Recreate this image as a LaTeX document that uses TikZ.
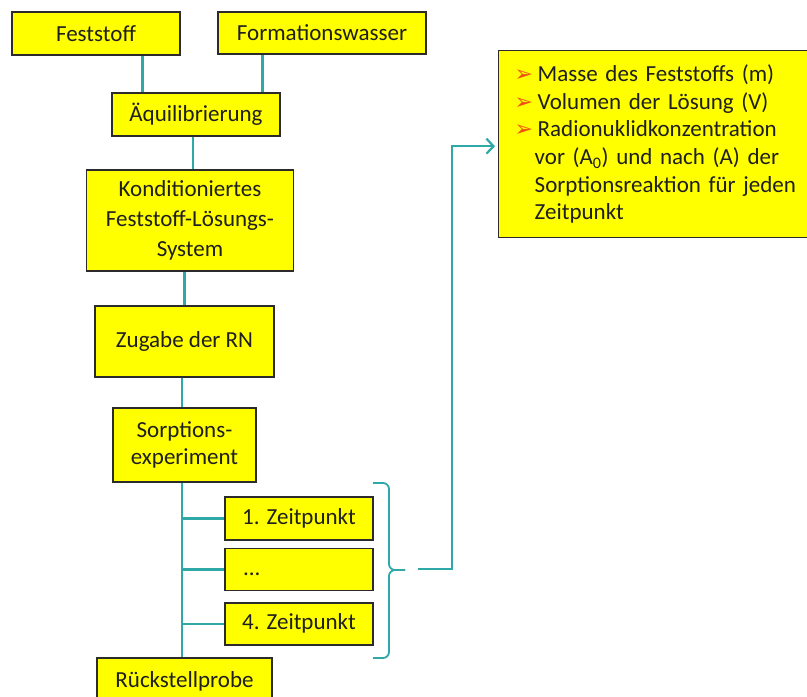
\documentclass[tikz,border=0pt]{standalone}
\usepackage{fontspec}
\setmainfont{Carlito}
\newfontfamily\symfont{DejaVu Sans}
\usetikzlibrary{arrows.meta,positioning}
\definecolor{Gelb}{HTML}{FFFF00}
\definecolor{Teal}{HTML}{2FA8A8}
\definecolor{Rand}{HTML}{2B2B2B}
\definecolor{Pfeil}{HTML}{F04E12}
%orange arrowhead in front of the list items
\newcommand{\Spitze}{\makebox[23pt][l]{\symfont\fontsize{22}{20}\selectfont\color{Pfeil}\raisebox{0pt}{➢}}}

\begin{document}
\begin{tikzpicture}[
        %Environment Cfg.
        x=1pt, y=-1pt,
        font=\fontsize{23}{29}\selectfont,
        >={Straight Barb[length=7pt,width=15pt]},
        %Environment Styles.
        gBox/.style={
            rectangle,
            draw=Rand,
            line width=1.4pt,
            fill=Gelb,
            text=black!88,
            align=center,
            inner sep=0pt
        },
        link/.style={
            draw=Teal,
            line width=2.5pt
        },
        bracket/.style={
            draw=Teal,
            line width=1.8pt,
            rounded corners=6pt
        },
    ]
    \useasboundingbox (0,0) rectangle (807,697);
    \clip (0,0) rectangle (807,697);

    %Main chain
    \node[gBox, minimum width=168pt, minimum height=43pt] (FEST) at (96,33.5) {Feststoff};
    \node[gBox, minimum width=208pt, minimum height=42pt] (FORM) at (322,33) {Formationswasser};
    \node[gBox, minimum width=168pt, minimum height=43pt] (AEQ) at (196,114.5) {Äquilibrierung};
    \node[gBox, minimum width=207pt, minimum height=101pt, font=\fontsize{23}{30}\selectfont] (KOND) at (190,220.5)
        {Konditioniertes\\Feststoff-Lösungs-\\System};
    \node[gBox, minimum width=179pt, minimum height=71pt] (ZUG) at (184.5,341.5) {Zugabe der RN};
    \node[gBox, minimum width=143pt, minimum height=74pt, font=\fontsize{23}{27}\selectfont] (SORP) at (184.5,445)
        {Sorptions-\\experiment};

    %Sampling times
    \node[gBox, minimum width=148pt, minimum height=43pt] (Z1) at (299,518.5) {1. Zeitpunkt};
    \node[gBox, minimum width=148pt, minimum height=42pt, text width=112pt, align=left, inner xsep=18pt,
        below = 7pt of Z1] (ZD) {\raisebox{-6pt}[0pt][0pt]{...}};
    \node[gBox, minimum width=148pt, minimum height=42pt, below = 11pt of ZD] (Z4) {4. Zeitpunkt};
    \node[gBox, minimum width=175pt, minimum height=46pt] (RUECK) at (184.5,681) {Rückstellprobe};

    %Measured quantities
    \node[gBox, anchor=north west, minimum width=332pt, minimum height=187pt, text width=300pt,
        align=left, inner xsep=16pt, font=\fontsize{23}{27.6}\selectfont] (INFO) at (498,50)
        {\Spitze Masse des Feststoffs (m)\\
         \Spitze Volumen der Lösung (V)\\
         \Spitze Radionuklidkonzentration\\
         \hspace*{20pt}vor (A\textsubscript{0}) und nach (A) der\\
         \hspace*{20pt}Sorptionsreaktion für jeden\\
         \hspace*{20pt}Zeitpunkt};

    %Connectors
    \draw[link] ([xshift=31pt]AEQ.north west) -- ([xshift=31pt]AEQ.north west |- FEST.south);
    \draw[link] ([xshift=-18pt]AEQ.north east) -- ([xshift=-18pt]AEQ.north east |- FORM.south);
    \draw[link] ([xshift=-3pt]AEQ.south) -- ([xshift=-3pt]AEQ.south |- KOND.north);
    \draw[link] (ZUG.north) -- (ZUG.north |- KOND.south);
    \coordinate (SPINE) at ([xshift=-2.5pt]SORP.south);
    \draw[link] (SPINE |- ZUG.south) -- (SPINE |- SORP.north);
    \draw[link] (SPINE) -- (SPINE |- RUECK.north);
    \foreach \z in {Z1,ZD,Z4}
        \draw[link] (\z.west) -- (\z.west -| SPINE);

    %Brace and arrow to the list
    \coordinate (BT) at (373,483);
    \coordinate (BB) at (373,658);
    \coordinate (BM) at (389,570);
    \coordinate (BTIP) at (405,570);
    \coordinate (BOUT) at (418,569);
    \draw[bracket] (BT) -| (BM) -- (BTIP);
    \draw[bracket] (BB) -| (BM) -- (BTIP);
    \draw[link, line width=2.2pt, ->] (BOUT) -| ([xshift=-46pt,yshift=-2pt]INFO.west) -- ([xshift=-3pt,yshift=-2pt]INFO.west);
\end{tikzpicture}
\end{document}
